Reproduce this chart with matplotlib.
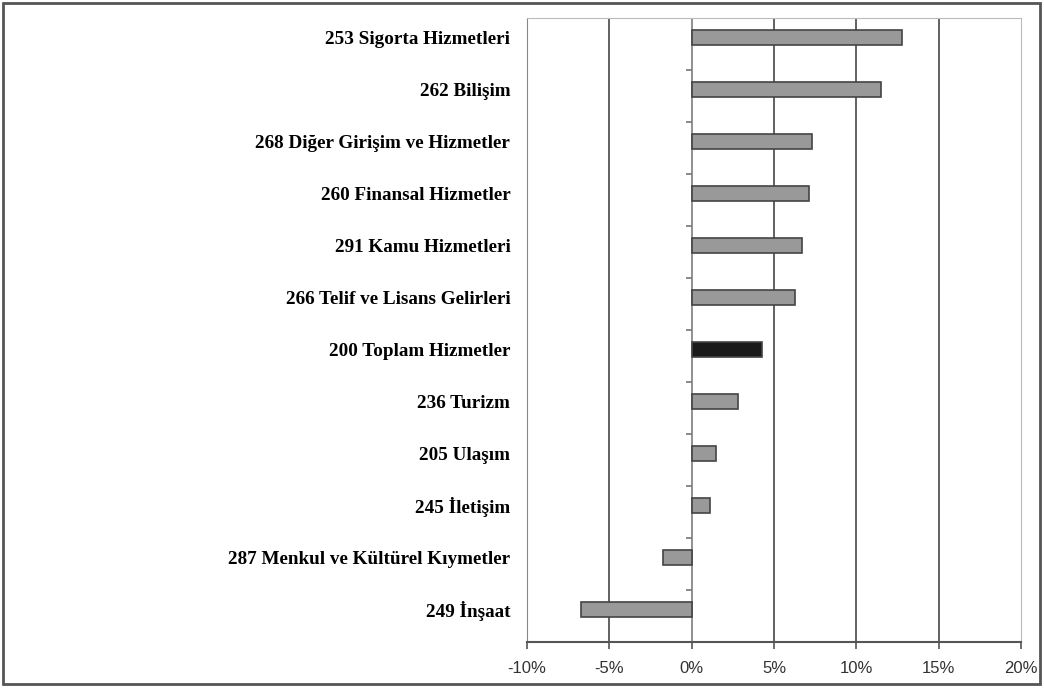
import numpy as np
import matplotlib.pyplot as plt
from matplotlib.patches import Rectangle

labels = ["253 Sigorta Hizmetleri", "262 Bilişim", "268 Diğer Girişim ve Hizmetler",
          "260 Finansal Hizmetler", "291 Kamu Hizmetleri", "266 Telif ve Lisans Gelirleri",
          "200 Toplam Hizmetler", "236 Turizm", "205 Ulaşım", "245 İletişim",
          "287 Menkul ve Kültürel Kıymetler", "249 İnşaat"]
values = [12.75, 11.5, 7.3, 7.1, 6.7, 6.3, 4.3, 2.8, 1.5, 1.1, -1.75, -6.7]
xticks = [-10, -5, 0, 5, 10, 15, 20]
xticklabels = ["-10%", "-5%", "0%", "5%", "10%", "15%", "20%"]

fig = plt.figure(figsize=(10.44, 6.88), dpi=100)
ax = fig.add_axes([527/1044, 1 - 642/688, (1021-527)/1044, (642-18)/688])

pos = np.arange(len(labels))
ypos = pos - 0.13
colors = ["#1a1a1a" if l.startswith("200") else "#999999" for l in labels]
ax.barh(ypos, values, height=0.29, color=colors, edgecolor="#444444", linewidth=1.2, zorder=3)

for x in [-5, 0, 5, 10, 15]:
    ax.axvline(x, color="#555555" if x else "#888888", lw=1.3, zorder=1)

# category boundary ticks on the zero axis
ax.plot(np.zeros(len(labels) + 1), np.arange(len(labels) + 1) - 0.5, ls="none",
        marker=0, markersize=4, color="#777777", mew=1.2, zorder=2)

ax.set_xlim(-10, 20)
ax.set_ylim(len(labels) - 0.5, -0.5)
ax.set_xticks(xticks)
ax.set_xticklabels(xticklabels, fontfamily="Liberation Sans", fontsize=12, color="#333333")
ax.set_yticks(ypos)
ax.set_yticklabels(labels, fontfamily="Liberation Serif", fontweight="bold", fontsize=13.8)
ax.tick_params(axis="y", length=0, pad=12)
ax.tick_params(axis="x", length=5, color="#555555", width=1.2, pad=9)

ax.spines["bottom"].set_color("#555555")
ax.spines["bottom"].set_linewidth(1.5)
ax.spines["left"].set_color("#888888")
ax.spines["top"].set_color("#bbbbbb")
ax.spines["right"].set_color("#bbbbbb")

fig.patches.append(Rectangle((3/1044, 4/688), 1037/1044, 681/688, transform=fig.transFigure,
                             fill=False, edgecolor="#555555", lw=2))

fig.savefig("out.png", dpi=100)
